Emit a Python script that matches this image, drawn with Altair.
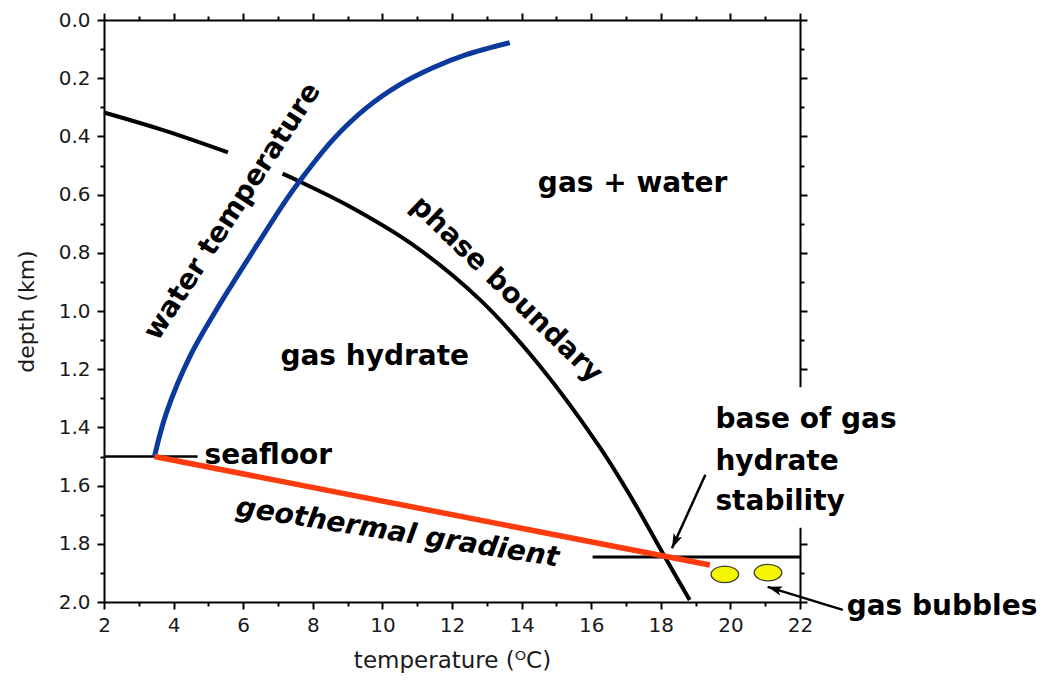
import math
import altair as alt
import pandas as pd

FONT = "DejaVu Sans"

# axis ticks
temp_major = [2, 4, 6, 8, 10, 12, 14, 16, 18, 20, 22]
temp_minor = [3, 5, 7, 9, 11, 13, 15, 17, 19, 21]
depth_major = [0.0, 0.2, 0.4, 0.6, 0.8, 1.0, 1.2, 1.4, 1.6, 1.8, 2.0]
depth_minor = [0.1, 0.3, 0.5, 0.7, 0.9, 1.1, 1.3, 1.5, 1.7, 1.9]

# water temperature profile (°C, km)
water_temp = [3.45, 3.79, 4.47, 5.23, 6.19, 7.24, 7.62, 8.58, 9.54, 10.50, 11.45, 12.41, 13.66]
water_depth = [1.500, 1.351, 1.156, 0.996, 0.812, 0.617, 0.554, 0.411, 0.302, 0.222, 0.164, 0.119, 0.078]

# hydrate phase boundary, in two pieces either side of the water-temperature label
phase_temp_upper = [2.0, 3.79, 5.56]
phase_depth_upper = [0.318, 0.382, 0.455]
phase_temp_lower = [7.13, 7.62, 8.97, 10.87, 12.80, 14.52, 16.24, 17.19, 18.05, 18.83]
phase_depth_lower = [0.528, 0.555, 0.635, 0.772, 0.961, 1.188, 1.467, 1.649, 1.831, 1.993]

# geothermal gradient below the seafloor
geo_temp = [3.45, 19.41]
geo_depth = [1.500, 1.873]

# seafloor and base of hydrate stability
seafloor_temp = [2.0, 4.69]
seafloor_depth = [1.5, 1.5]
base_temp = [16.04, 22.0]
base_depth = [1.845, 1.845]

# free gas bubbles
bubble_temp = [19.84, 21.08]
bubble_depth = [1.905, 1.899]

# annotation arrows (tail -> head)
arrow_tail_temp = [19.28, 23.23]
arrow_tail_depth = [1.563, 2.027]
arrow_head_temp = [18.32, 21.07]
arrow_head_depth = [1.815, 1.948]

W, H = 696, 582

xs = alt.Scale(domain=[2, 22], nice=False, zero=False)
ys = alt.Scale(domain=[0, 2], reverse=True, nice=False, zero=False)

tick_style = dict(grid=False, tickColor="black", tickWidth=2, domainColor="black",
                  domainWidth=2, zindex=0)
label_style = dict(labelFont=FONT, labelFontSize=20, labelColor="#1a1a1a",
                   titleFont=FONT, titleFontWeight="normal",
                   titleColor="#1a1a1a", labelFlush=False, labelOverlap=False)

ax_bottom = alt.Axis(orient="bottom", values=temp_major, tickSize=7, labelPadding=6,
                     title="temperature (ᴼC)", titleFontSize=23, titlePadding=14,
                     **tick_style, **label_style)
ax_bottom_minor = alt.Axis(orient="bottom", values=temp_minor, tickSize=4, labels=False,
                           domain=False, title=None, **tick_style)
ax_left = alt.Axis(orient="left", values=depth_major, format=".1f", tickSize=7, labelPadding=7,
                   title="depth (km)", titleFontSize=22, titlePadding=20,
                   **tick_style, **label_style)
ax_left_minor = alt.Axis(orient="left", values=depth_minor, tickSize=4, labels=False,
                         domain=False, title=None, **tick_style)
ax_top = alt.Axis(orient="top", values=temp_major, tickSize=7, labels=False, title=None,
                  **tick_style)
ax_top_minor = alt.Axis(orient="top", values=temp_minor, tickSize=4, labels=False,
                        domain=False, title=None, **tick_style)
ax_right = alt.Axis(orient="right", values=depth_major, tickSize=7, labels=False, title=None,
                    **tick_style)
ax_right_minor = alt.Axis(orient="right", values=depth_minor, tickSize=4, labels=False,
                          domain=False, title=None, **tick_style)


def X(axis=None, field="t"):
    return alt.X(f"{field}:Q", scale=xs, axis=axis)


def Y(axis=None, field="d"):
    return alt.Y(f"{field}:Q", scale=ys, axis=axis)


water = pd.DataFrame({"t": water_temp, "d": water_depth})
phase = pd.concat([
    pd.DataFrame({"t": phase_temp_upper, "d": phase_depth_upper, "part": "upper"}),
    pd.DataFrame({"t": phase_temp_lower, "d": phase_depth_lower, "part": "lower"}),
], ignore_index=True)
geo = pd.DataFrame({"t": geo_temp, "d": geo_depth})
seafloor = pd.DataFrame({"t": seafloor_temp, "d": seafloor_depth})
base = pd.DataFrame({"t": base_temp, "d": base_depth})
bubbles = pd.DataFrame({"t": bubble_temp, "d": bubble_depth})

px_t, px_d = W / 20.0, H / 2.0
arrows = pd.DataFrame({"t": arrow_tail_temp, "d": arrow_tail_depth,
                       "t2": arrow_head_temp, "d2": arrow_head_depth})
arrows["ang"] = [
    (math.degrees(math.atan2((t2 - t) * px_t, -(d2 - d) * px_d)) + 360) % 360
    for t, d, t2, d2 in zip(arrows.t, arrows.d, arrows.t2, arrows.d2)
]

phase_layer = alt.Chart(phase).mark_line(color="black", strokeWidth=4, interpolate="catmull-rom").encode(
    x=X(ax_bottom), y=Y(ax_left), detail="part:N", order="t:Q")
seafloor_layer = alt.Chart(seafloor).mark_line(color="black", strokeWidth=2.5).encode(
    x=X(ax_bottom_minor), y=Y(ax_left_minor))
base_layer = alt.Chart(base).mark_line(color="black", strokeWidth=3).encode(
    x=X(ax_top), y=Y(ax_right))
water_layer = alt.Chart(water).mark_line(color="#0b3a9c", strokeWidth=5, interpolate="catmull-rom").encode(
    x=X(ax_top_minor), y=Y(ax_right_minor), order="t:Q")
geo_layer = alt.Chart(geo).mark_line(color="#fe3b0c", strokeWidth=5.5).encode(x=X(), y=Y())

# white box behind the "base of gas hydrate stability" label, breaking the right frame
label_box = pd.DataFrame({"t": [21.7], "t2": [22.45], "d": [1.262], "d2": [1.745]})
box_layer = alt.Chart(label_box).mark_rect(color="white").encode(
    x=X(), x2="t2:Q", y=Y(), y2="d2:Q")

ellipse = ("M -1 0 C -1 -0.331 -0.552 -0.6 0 -0.6 C 0.552 -0.6 1 -0.331 1 0 "
           "C 1 0.331 0.552 0.6 0 0.6 C -0.552 0.6 -1 0.331 -1 0 Z")
bubble_layer = alt.Chart(bubbles).mark_point(
    shape=ellipse, size=760, filled=True, fill="#f6f600", stroke="#3a3a3a",
    strokeWidth=1.3, opacity=1).encode(x=X(), y=Y())

shaft_layer = alt.Chart(arrows).mark_rule(color="black", strokeWidth=2.5).encode(
    x=X(), x2="t2:Q", y=Y(), y2="d2:Q")
head = "M 0 0 L 0.55 1.7 L 0 1.3 L -0.55 1.7 Z"
head_layer = alt.Chart(arrows).mark_point(
    shape=head, size=290, filled=True, color="black", opacity=1).encode(
    x=X(field="t2"), y=Y(field="d2"), angle=alt.Angle("ang:Q", scale=None))

centered_labels = pd.DataFrame({
    "text": ["gas + water", "gas hydrate", "phase boundary", "water temperature"],
    "t": [17.19, 9.78, 13.56, 5.70],
    "d": [0.562, 1.157, 0.927, 0.659],
    "ang": [0, 0, 44, 303],
})
left_labels = pd.DataFrame({
    "text": ["seafloor", "base of gas", "hydrate", "stability", "gas bubbles"],
    "t": [4.89, 19.57, 19.57, 19.57, 23.34],
    "d": [1.498, 1.374, 1.519, 1.656, 2.017],
})
geo_label = pd.DataFrame({"text": ["geothermal gradient"], "t": [10.43], "d": [1.763]})

text_style = dict(font=FONT, fontSize=28, fontWeight="bold", color="black", baseline="middle")
center_text = alt.Chart(centered_labels).mark_text(align="center", **text_style).encode(
    x=X(), y=Y(), text="text:N", angle=alt.Angle("ang:Q", scale=None))
left_text = alt.Chart(left_labels).mark_text(align="left", **text_style).encode(
    x=X(), y=Y(), text="text:N")
geo_text = alt.Chart(geo_label).mark_text(align="center", angle=9, fontStyle="italic",
                                          **text_style).encode(x=X(), y=Y(), text="text:N")

chart = alt.layer(
    phase_layer, seafloor_layer, base_layer, water_layer, geo_layer,
    box_layer, bubble_layer, shaft_layer, head_layer,
    center_text, left_text, geo_text,
).resolve_axis(x="independent", y="independent").properties(
    width=W, height=H,
    autosize=alt.AutoSizeParams(type="none"),
    padding={"left": 104, "top": 20, "right": 251, "bottom": 84},
    background="white",
).configure_view(strokeWidth=0)

chart.save("out.html", embed_options={"renderer": "svg", "actions": False})
